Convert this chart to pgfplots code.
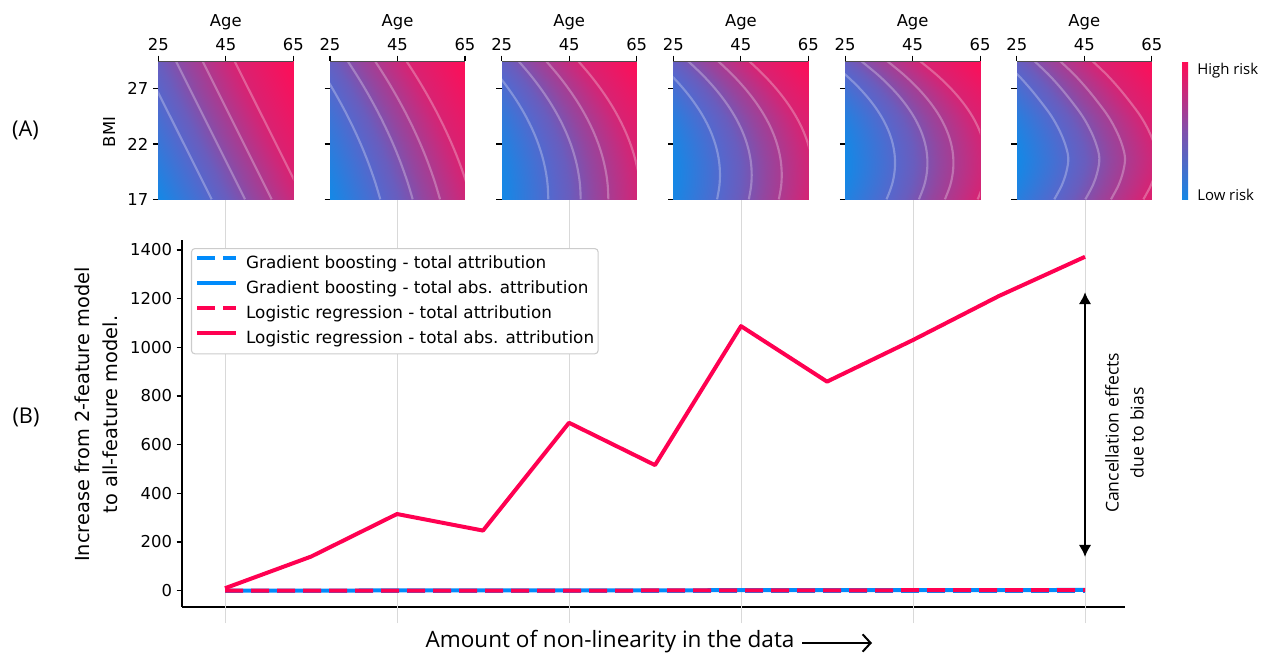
\documentclass[border=0pt]{standalone}
\usepackage{fontspec}
\setmainfont{DejaVu Sans}
\newfontfamily\osans{Open Sans}
\usepackage{pgfplots}
\pgfplotsset{compat=1.18}
\usetikzlibrary{arrows.meta}
\definecolor{shapblue}{RGB}{0,139,251}
\definecolor{shapred}{RGB}{255,0,81}
\definecolor{cbblue}{RGB}{20,136,230}
\definecolor{cbmid}{RGB}{128,80,172}
\definecolor{cbred}{RGB}{255,13,87}
\pgfplotsset{
  colormap={risk}{rgb255(0cm)=(20,136,230); rgb255(26cm)=(88,102,203); rgb255(34cm)=(105,93,190); rgb255(47cm)=(148,70,159); rgb255(66cm)=(203,41,123); rgb255(71cm)=(216,34,114); rgb255(100cm)=(255,13,87)},
  hm/.style={
    scale only axis, width=101.25pt, height=103.7pt, anchor=south west,
    xmin=25, xmax=65, ymin=17, ymax=29.5, enlargelimits=false,
    axis x line*=top, axis y line*=left,
    x axis line style={draw=black!70, line width=0.5pt}, y axis line style={draw=none},
    xtick={25,45,65}, ytick={17,22,27},
    tick align=outside, major tick length=4pt, tick style={black, line width=0.8pt},
    tick label style={font=\fontsize{12.3}{14}\selectfont},
    /pgf/number format/assume math mode=true,
    xlabel={Age}, xlabel style={font=\fontsize{12.3}{14}\selectfont, at={(rel axis cs:0.5,1.248)}, anchor=base},
    colormap name=risk, axis on top,
  },
  ctr/.style={white, opacity=0.28, line width=1.6pt, smooth, tension=0.6},
  hs/.style={surf, shader=interp, mesh/cols=2, point meta=explicit},
}
\begin{document}
\begin{tikzpicture}
% ---------- main plot (B) ----------
\begin{axis}[
  at={(136.5pt,44.25pt)}, anchor=south west, scale only axis,
  width=707.25pt, height=275.25pt,
  xmin=-0.5, xmax=10.465, ymin=-67, ymax=1441,
  axis x line*=bottom, axis y line*=left,
  axis line style={black, line width=0.8pt},
  xtick=\empty, ytick={0,200,...,1400},
  tick align=outside, major tick length=4pt, tick style={black, line width=0.8pt},
  yticklabel style={font=\fontsize{12.3}{14}\selectfont, /pgf/number format/1000 sep=},
  /pgf/number format/assume math mode=true,
  clip=false,
  ylabel={Increase from 2-feature model\\to all-feature model.},
  ylabel style={font=\fontsize{14.5}{21}\selectfont, align=center, at={(rel axis cs:-0.0912,0.5245)}, anchor=center},
  xlabel={Amount of non-linearity in the data},
  xlabel style={font=\osans\fontsize{16.9}{20}\selectfont, at={(rel axis cs:0.4539,-0.1117)}, anchor=base},
  legend style={at={(0.0095,0.978)}, anchor=north west, draw=black!20, line width=0.8pt, rounded corners=2.5pt, fill=white,
    font=\fontsize{12.6}{15}\selectfont, inner xsep=3pt, inner ysep=5.5pt, row sep=6.9pt, column sep=6.3pt,
    nodes={inner sep=0pt, text height=9.2pt, text depth=2.6pt}},
  legend cell align=left,
  legend image code/.code={\draw[#1] (0pt,4pt) -- (28.7pt,4pt);},
]
\foreach \g in {0,2,4,6,8,10}{
  \edef\tmp{\noexpand\draw[black!15, line width=0.6pt] (axis cs:\g,-133) -- (axis cs:\g,1608);}\tmp
}
\addplot[shapblue, line width=3pt, dash pattern=on 13.5pt off 6pt] coordinates {(0,0)(1,0)(2,0)(3,0)(4,0)(5,0)(6,0)(7,0)(8,0)(9,0)(10,0)};
\addlegendentry{Gradient boosting - total attribution}
\addplot[shapblue, line width=3pt, line join=round] coordinates {(0,0)(1,0.5)(2,1)(3,1)(4,1.5)(5,1.5)(6,2)(7,2)(8,2.5)(9,2.5)(10,3)};
\addlegendentry{Gradient boosting - total abs. attribution}
\addplot[shapred, line width=3pt, dash pattern=on 13.5pt off 6pt] coordinates {(0,0)(1,0)(2,0)(3,0)(4,0)(5,1)(6,1)(7,1)(8,2)(9,2)(10,2)};
\addlegendentry{Logistic regression - total attribution}
\addplot[shapred, line width=3pt, line join=round] coordinates {(0,10)(1,140)(2,315)(3,247)(4,690)(5,516)(6,1087)(7,859)(8,1030)(9,1211)(10,1372)};
\addlegendentry{Logistic regression - total abs. attribution}
\draw[{Latex[length=9pt,width=9.5pt]}-{Latex[length=9pt,width=9.5pt]}, line width=2.2pt] (axis cs:10,1227) -- (axis cs:10,138.5);
\node[rotate=90, align=center, font=\osans\fontsize{13.2}{18.75}\selectfont] at (axis cs:10.46,648) {Cancellation effects\\due to bias};
\draw[-{Straight Barb[length=6pt,width=13pt]}, line width=1.5pt] (rel axis cs:0.6575,-0.0981) -- (rel axis cs:0.7317,-0.0981);
\end{axis}

% ---------- heatmaps (A) ----------
\begin{axis}[hm, at={(118.725pt,350pt)}, point meta min=25, point meta max=85.5,
  ylabel={BMI}, ylabel style={font=\fontsize{12.3}{14}\selectfont, at={(rel axis cs:-0.365,0.487)}, anchor=center}]
\addplot[hs] table[meta=v, row sep=\\] {x y v\\ 25 17 25\\ 65 17 65\\ 25 29.5 45.5\\ 65 29.5 85.5\\};
\addplot[ctr] coordinates {(40.8,17) (20.3,29.5)};
\addplot[ctr] coordinates {(50.7,17) (30.2,29.5)};
\addplot[ctr] coordinates {(58.6,17) (38.1,29.5)};
\addplot[ctr] coordinates {(68.1,17) (47.6,29.5)};
\end{axis}

\begin{axis}[hm, at={(247.5pt,350pt)}, point meta min=25, point meta max=84.26, yticklabels={}]
\addplot[hs] table[meta=v, row sep=\\] {x y v\\
25 17 25\\ 65 17 65\\ 25 18.25 26.21\\ 65 18.25 66.21\\ 25 19.5 27.59\\ 65 19.5 67.59\\
25 20.75 29.11\\ 65 20.75 69.11\\ 25 22 30.80\\ 65 22 70.80\\ 25 23.25 32.65\\ 65 23.25 72.65\\
25 24.5 34.65\\ 65 24.5 74.65\\ 25 25.75 36.82\\ 65 25.75 76.82\\ 25 27 39.14\\ 65 27 79.14\\
25 28.25 41.62\\ 65 28.25 81.62\\ 25 29.5 44.26\\ 65 29.5 84.26\\};
\addplot[ctr] coordinates {(39.9,17) (38.69,18.25) (37.31,19.5) (35.79,20.75) (34.10,22) (32.25,23.25) (30.25,24.5) (28.08,25.75) (25.76,27) (23.28,28.25) (20.64,29.5)};
\addplot[ctr] coordinates {(49.5,17) (48.29,18.25) (46.91,19.5) (45.39,20.75) (43.70,22) (41.85,23.25) (39.85,24.5) (37.68,25.75) (35.36,27) (32.88,28.25) (30.24,29.5)};
\addplot[ctr] coordinates {(57.6,17) (56.39,18.25) (55.01,19.5) (53.49,20.75) (51.80,22) (49.95,23.25) (47.95,24.5) (45.78,25.75) (43.46,27) (40.98,28.25) (38.34,29.5)};
\addplot[ctr] coordinates {(66.9,17) (65.69,18.25) (64.31,19.5) (62.79,20.75) (61.10,22) (59.25,23.25) (57.25,24.5) (55.08,25.75) (52.76,27) (50.28,28.25) (47.64,29.5)};
\end{axis}

\begin{axis}[hm, at={(376.275pt,350pt)}, point meta min=25, point meta max=83.44, yticklabels={}]
\addplot[hs] table[meta=v, row sep=\\] {x y v\\
25 17 25\\ 65 17 65\\ 25 18.25 25.18\\ 65 18.25 65.18\\ 25 19.5 25.74\\ 65 19.5 65.74\\
25 20.75 26.66\\ 65 20.75 66.66\\ 25 22 27.95\\ 65 22 67.95\\ 25 23.25 29.61\\ 65 23.25 69.61\\
25 24.5 31.64\\ 65 24.5 71.64\\ 25 25.75 34.03\\ 65 25.75 74.03\\ 25 27 36.8\\ 65 27 76.8\\
25 28.25 39.93\\ 65 28.25 79.93\\ 25 29.5 43.44\\ 65 29.5 83.44\\};
\addplot[ctr] coordinates {(38.8,17) (38.62,18.25) (38.06,19.5) (37.14,20.75) (35.85,22) (34.19,23.25) (32.16,24.5) (29.77,25.75) (27.0,27) (23.87,28.25) (20.36,29.5)};
\addplot[ctr] coordinates {(48.4,17) (48.22,18.25) (47.66,19.5) (46.74,20.75) (45.45,22) (43.79,23.25) (41.76,24.5) (39.37,25.75) (36.6,27) (33.47,28.25) (29.96,29.5)};
\addplot[ctr] coordinates {(56.6,17) (56.42,18.25) (55.86,19.5) (54.94,20.75) (53.65,22) (51.99,23.25) (49.96,24.5) (47.57,25.75) (44.8,27) (41.67,28.25) (38.16,29.5)};
\addplot[ctr] coordinates {(66.1,17) (65.92,18.25) (65.36,19.5) (64.44,20.75) (63.15,22) (61.49,23.25) (59.46,24.5) (57.07,25.75) (54.3,27) (51.17,28.25) (47.66,29.5)};
\end{axis}

\begin{axis}[hm, at={(505.05pt,350pt)}, point meta min=25.02, point meta max=83.88, yticklabels={}]
\addplot[hs] table[meta=v, row sep=\\] {x y v\\
25 17 25.86\\ 65 17 65.86\\ 25 18.25 25.16\\ 65 18.25 65.16\\ 25 19.5 25.02\\ 65 19.5 65.02\\
25 20.75 25.43\\ 65 20.75 65.43\\ 25 22 26.40\\ 65 22 66.40\\ 25 23.25 27.92\\ 65 23.25 67.92\\
25 24.5 30.0\\ 65 24.5 70.0\\ 25 25.75 32.64\\ 65 25.75 72.64\\ 25 27 35.83\\ 65 27 75.83\\
25 28.25 39.58\\ 65 28.25 79.58\\ 25 29.5 43.88\\ 65 29.5 83.88\\};
\addplot[ctr] coordinates {(37.94,17) (38.64,18.25) (38.78,19.5) (38.37,20.75) (37.40,22) (35.88,23.25) (33.8,24.5) (31.16,25.75) (27.97,27) (24.22,28.25) (19.92,29.5)};
\addplot[ctr] coordinates {(47.34,17) (48.04,18.25) (48.18,19.5) (47.77,20.75) (46.80,22) (45.28,23.25) (43.2,24.5) (40.56,25.75) (37.37,27) (33.62,28.25) (29.32,29.5)};
\addplot[ctr] coordinates {(56.24,17) (56.94,18.25) (57.08,19.5) (56.67,20.75) (55.70,22) (54.18,23.25) (52.1,24.5) (49.46,25.75) (46.27,27) (42.52,28.25) (38.22,29.5)};
\addplot[ctr] coordinates {(65.44,17) (66.14,18.25) (66.28,19.5) (65.87,20.75) (64.90,22) (63.38,23.25) (61.3,24.5) (58.66,25.75) (55.47,27) (51.72,28.25) (47.42,29.5)};
\end{axis}

\begin{axis}[hm, at={(633.825pt,350pt)}, point meta min=25.047, point meta max=84.64, yticklabels={}]
\addplot[hs] table[meta=v, row sep=\\] {x y v\\
25 17 27.53\\ 65 17 67.53\\ 25 18.25 25.975\\ 65 18.25 65.975\\ 25 19.5 25.15\\ 65 19.5 65.15\\
25 20.75 25.047\\ 65 20.75 65.047\\ 25 22 25.67\\ 65 22 65.67\\ 25 23.25 27.02\\ 65 23.25 67.02\\
25 24.5 29.09\\ 65 24.5 69.09\\ 25 25.75 31.89\\ 65 25.75 71.89\\ 25 27 35.41\\ 65 27 75.41\\
25 28.25 39.66\\ 65 28.25 79.66\\ 25 29.5 44.64\\ 65 29.5 84.64\\};
\addplot[ctr] coordinates {(37.27,17) (38.83,18.25) (39.65,19.5) (39.75,20.75) (39.13,22) (37.78,23.25) (35.71,24.5) (32.91,25.75) (29.39,27) (25.14,28.25) (20.16,29.5)};
\addplot[ctr] coordinates {(46.87,17) (48.43,18.25) (49.25,19.5) (49.35,20.75) (48.73,22) (47.38,23.25) (45.31,24.5) (42.51,25.75) (38.99,27) (34.74,28.25) (29.76,29.5)};
\addplot[ctr] coordinates {(54.57,17) (56.13,18.25) (56.95,19.5) (57.05,20.75) (56.43,22) (55.08,23.25) (53.01,24.5) (50.21,25.75) (46.69,27) (42.44,28.25) (37.46,29.5)};
\addplot[ctr] coordinates {(64.27,17) (65.83,18.25) (66.65,19.5) (66.75,20.75) (66.13,22) (64.78,23.25) (62.71,24.5) (59.91,25.75) (56.39,27) (52.14,28.25) (47.16,29.5)};
\end{axis}

\begin{axis}[hm, at={(762.6pt,350pt)}, point meta min=25.05, point meta max=84.3, yticklabels={}]
\addplot[hs] table[meta=v, row sep=\\] {x y v\\
25 17 29.2\\ 65 17 69.2\\ 25 18.25 27.0\\ 65 18.25 67.0\\ 25 19.5 25.6\\ 65 19.5 65.6\\
25 20.75 25.05\\ 65 20.75 65.05\\ 25 22 26.0\\ 65 22 66.0\\ 25 23.25 27.7\\ 65 23.25 67.7\\
25 24.5 30.0\\ 65 24.5 70.0\\ 25 25.75 33.0\\ 65 25.75 73.0\\ 25 27 36.3\\ 65 27 76.3\\
25 28.25 40.0\\ 65 28.25 80.0\\ 25 29.5 44.3\\ 65 29.5 84.3\\};
\addplot[ctr] coordinates {(36.1,17) (38.3,18.25) (39.7,19.5) (40.25,20.75) (39.3,22) (37.6,23.25) (35.3,24.5) (32.3,25.75) (29.0,27) (25.3,28.25) (21.0,29.5)};
\addplot[ctr] coordinates {(45.3,17) (47.5,18.25) (48.9,19.5) (49.45,20.75) (48.5,22) (46.8,23.25) (44.5,24.5) (41.5,25.75) (38.2,27) (34.5,28.25) (30.2,29.5)};
\addplot[ctr] coordinates {(52.9,17) (55.1,18.25) (56.5,19.5) (57.05,20.75) (56.1,22) (54.4,23.25) (52.1,24.5) (49.1,25.75) (45.8,27) (42.1,28.25) (37.8,29.5)};
\addplot[ctr] coordinates {(62.5,17) (64.7,18.25) (66.1,19.5) (66.65,20.75) (65.7,22) (64.0,23.25) (61.7,24.5) (58.7,25.75) (55.4,27) (51.7,28.25) (47.4,29.5)};
\end{axis}

% colorbar
\shade[bottom color=cbblue, top color=cbred, middle color=cbmid] (886.5pt,349.5pt) rectangle (891pt,452.5pt);
\node[anchor=base west, font=\osans\fontsize{11.2}{13}\selectfont, inner sep=0pt] at (897.75pt,443.25pt) {High risk};
\node[anchor=base west, font=\osans\fontsize{11.2}{13}\selectfont, inner sep=0pt] at (897.75pt,349.3pt) {Low risk};
% panel labels
\node[font=\osans\fontsize{16.3}{18}\selectfont, inner sep=0pt] at (19.1pt,402pt) {(A)};
\node[font=\osans\fontsize{16.3}{18}\selectfont, inner sep=0pt] at (19.5pt,186.4pt) {(B)};

\pgfresetboundingbox
\useasboundingbox (0,0) rectangle (952.5pt,499.5pt);
\end{tikzpicture}
\end{document}
